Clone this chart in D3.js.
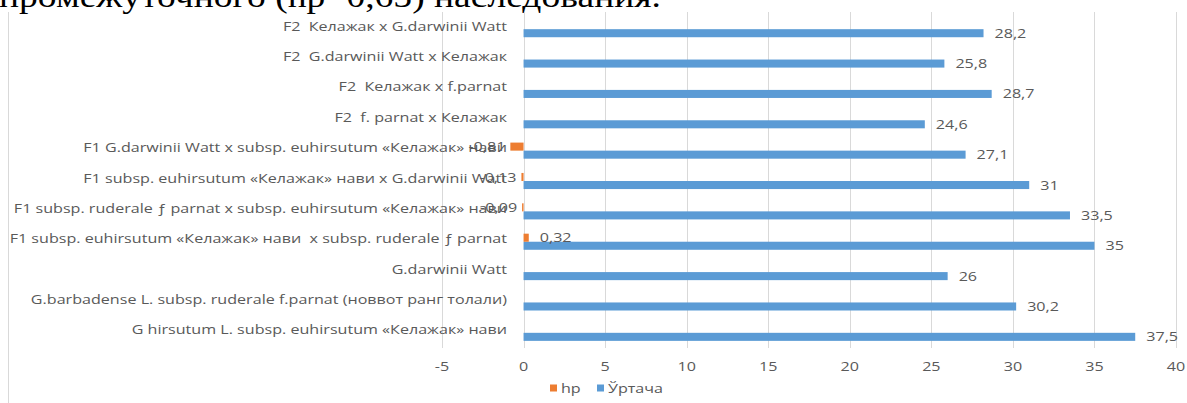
<!DOCTYPE html>
<html>
<head>
<meta charset="utf-8">
<script src="https://cdn.jsdelivr.net/npm/d3@7"></script>
<style>
  body { margin: 0; background: #fff; }
  svg { display: block; }
  text { white-space: pre; }
</style>
</head>
<body>
<div id="chart"></div>
<script>
// categories, top to bottom as shown
const categories = [
  "F2  Келажак x G.darwinii Watt",
  "F2  G.darwinii Watt x Келажак",
  "F2  Келажак x f.parnat",
  "F2  f. parnat x Келажак",
  "F1 G.darwinii Watt x subsp. euhirsutum «Келажак» нави",
  "F1 subsp. euhirsutum «Келажак» нави x G.darwinii Watt",
  "F1 subsp. ruderale ƒ parnat x subsp. euhirsutum «Келажак» нави",
  "F1 subsp. euhirsutum «Келажак» нави  x subsp. ruderale ƒ parnat",
  "G.darwinii Watt",
  "G.barbadense L. subsp. ruderale f.parnat (новвот ранг толали)",
  "G hirsutum L. subsp. euhirsutum «Келажак» нави"
];
const hpValues = [null, null, null, null, -0.81, -0.13, -0.09, 0.32, null, null, null];
const avgValues = [28.2, 25.8, 28.7, 24.6, 27.1, 31, 33.5, 35, 26, 30.2, 37.5];
const seriesNames = ["hp", "Ўртача"];
const xTicks = [-5, 0, 5, 10, 15, 20, 25, 30, 35, 40];

const width = 1187, height = 403;
const colors = {"hp": "#ED7D31", "Ўртача": "#5B9BD5"};
const textColor = "#595959";
const gridColor = "#d9d9d9";
const sx = 1.24; // horizontal stretch of the chart lettering

const loc = d3.formatLocale({decimal: ",", thousands: " ", grouping: [3], currency: ["", ""], minus: "-"});
const fmt = loc.format(".2~f");

const svg = d3.select("#chart").append("svg")
  .attr("width", width)
  .attr("height", height)
  .style("font-family", "'Open Sans', sans-serif");

function place(xp, yp) {
  return "translate(" + xp + "," + yp + ") scale(" + sx + ",1)";
}

// cut-off document text above the chart
svg.append("text")
  .attr("x", -1)
  .attr("y", 7)
  .attr("textLength", 662)
  .attr("lengthAdjust", "spacingAndGlyphs")
  .style("font-family", "'Liberation Serif', serif")
  .style("font-size", "31px")
  .attr("fill", "#000")
  .text("промежуточного (hp=0,65) наследования.");

// chart frame (left edge visible)
svg.append("line")
  .attr("x1", 8.5).attr("x2", 8.5)
  .attr("y1", 12).attr("y2", height)
  .attr("stroke", gridColor);

const x = d3.scaleLinear().domain([-5, 40]).range([442, 1176]);
const y = d3.scaleBand().domain(categories).range([14, 348]).paddingInner(0.47).paddingOuter(0.235);
const ySeries = d3.scaleBand().domain(seriesNames).range([0, y.bandwidth()]);

// gridlines
svg.append("g").selectAll("line")
  .data(xTicks)
  .enter().append("line")
  .attr("x1", d => Math.round(x(d)) + 0.5)
  .attr("x2", d => Math.round(x(d)) + 0.5)
  .attr("y1", 12)
  .attr("y2", 348)
  .attr("stroke", gridColor);

// tick labels
svg.append("g").selectAll("text")
  .data(xTicks)
  .enter().append("text")
  .attr("transform", d => place(x(d), 366))
  .attr("dy", ".35em")
  .attr("text-anchor", "middle")
  .attr("fill", textColor)
  .style("font-size", "13px")
  .text(d => d);

// category labels
svg.append("g").selectAll("text")
  .data(categories)
  .enter().append("text")
  .attr("transform", d => place(507, y(d) + y.bandwidth() / 2 - 3))
  .attr("dy", ".35em")
  .attr("text-anchor", "end")
  .attr("fill", textColor)
  .style("font-size", "13px")
  .text(d => d);

// bars
const rows = categories.map((c, i) => ({cat: c, hp: hpValues[i], avg: avgValues[i]}));

const avgBar = svg.append("g").selectAll("rect")
  .data(rows)
  .enter();

avgBar.append("rect")
  .attr("x", d => x(Math.min(0, d.avg)))
  .attr("y", d => y(d.cat) + ySeries("Ўртача"))
  .attr("width", d => Math.abs(x(d.avg) - x(0)))
  .attr("height", ySeries.bandwidth())
  .attr("fill", colors["Ўртача"]);

avgBar.append("text")
  .attr("transform", d => place(x(d.avg) + 11, y(d.cat) + ySeries("Ўртача") + ySeries.bandwidth() / 2))
  .attr("dy", ".35em")
  .attr("fill", textColor)
  .style("font-size", "13px")
  .text(d => fmt(d.avg));

const hpRows = rows.filter(d => d.hp !== null);
const hpBar = svg.append("g").selectAll("rect")
  .data(hpRows)
  .enter();

hpBar.append("rect")
  .attr("x", d => x(Math.min(0, d.hp)))
  .attr("y", d => y(d.cat) + ySeries("hp"))
  .attr("width", d => Math.max(1, Math.abs(x(d.hp) - x(0))))
  .attr("height", ySeries.bandwidth())
  .attr("fill", colors["hp"]);

hpBar.append("text")
  .attr("transform", d => place(d.hp < 0 ? x(d.hp) - 5 : x(d.hp) + 11, y(d.cat) + ySeries("hp") + ySeries.bandwidth() / 2))
  .attr("dy", ".35em")
  .attr("text-anchor", d => d.hp < 0 ? "end" : "start")
  .attr("fill", textColor)
  .style("font-size", "13px")
  .text(d => fmt(d.hp));

// legend
const legend = svg.append("g").selectAll("g")
  .data(seriesNames)
  .enter().append("g")
  .attr("transform", (d, i) => "translate(" + [550, 597][i] + ",388)");

legend.append("rect")
  .attr("x", 0).attr("y", -3.5)
  .attr("width", 7).attr("height", 7)
  .attr("fill", d => colors[d]);

legend.append("text")
  .attr("transform", place(11, 0))
  .attr("dy", ".35em")
  .attr("fill", textColor)
  .style("font-size", "13px")
  .text(d => d);
</script>
</body>
</html>
